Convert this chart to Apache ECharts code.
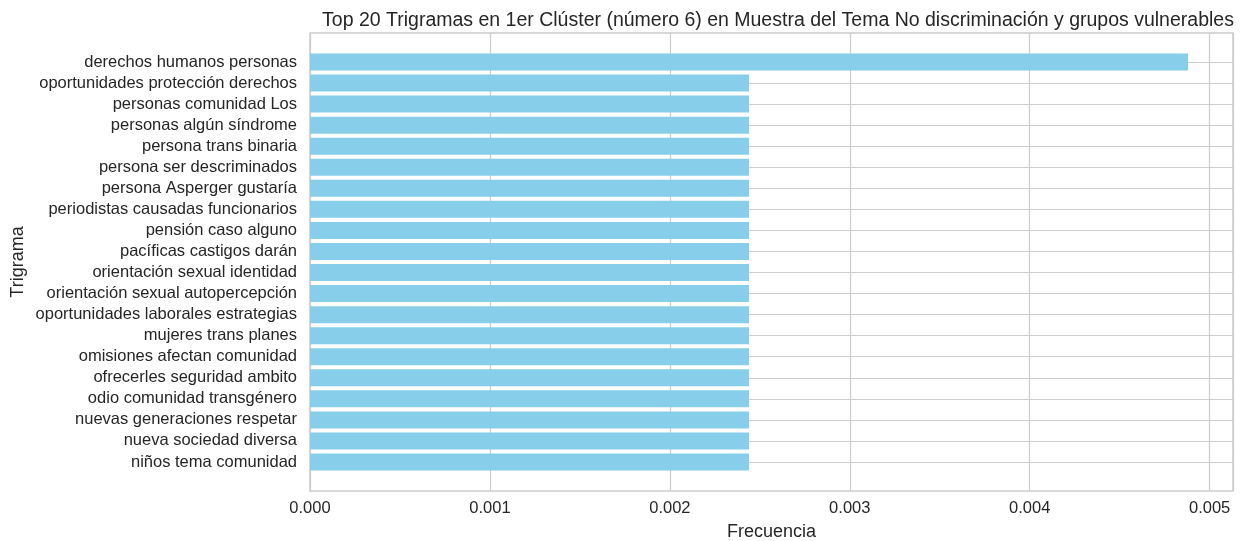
<!DOCTYPE html>
<html style="height: 100%">
<head>
    <meta charset="utf-8">
</head>
<body style="height: 100%; margin: 0; background: #fff">
    <div id="container" style="width: 1245px; height: 541px"></div>
    <script type="text/javascript" src="https://cdn.jsdelivr.net/npm/echarts@6/dist/echarts.min.js"></script>
    <script type="text/javascript">
var trigramas = [
    'derechos humanos personas',
    'oportunidades protección derechos',
    'personas comunidad Los',
    'personas algún síndrome',
    'persona trans binaria',
    'persona ser descriminados',
    'persona Asperger gustaría',
    'periodistas causadas funcionarios',
    'pensión caso alguno',
    'pacíficas castigos darán',
    'orientación sexual identidad',
    'orientación sexual autopercepción',
    'oportunidades laborales estrategias',
    'mujeres trans planes',
    'omisiones afectan comunidad',
    'ofrecerles seguridad ambito',
    'odio comunidad transgénero',
    'nuevas generaciones respetar',
    'nueva sociedad diversa',
    'niños tema comunidad'
];
var frecuencias = [0.00488, 0.00244, 0.00244, 0.00244, 0.00244, 0.00244, 0.00244,
    0.00244, 0.00244, 0.00244, 0.00244, 0.00244, 0.00244, 0.00244, 0.00244,
    0.00244, 0.00244, 0.00244, 0.00244, 0.00244];
var xMax = 0.00513;

var textColor = '#262626';
var gridColor = '#cccccc';
var font = 'Liberation Sans, Arial, sans-serif';

var dom = document.getElementById("container");
var myChart = echarts.init(dom, null, {renderer: 'canvas'});
var option = {
    backgroundColor: '#ffffff',
    animation: false,
    title: {
        text: 'Top 20 Trigramas en 1er Clúster (número 6) en Muestra del Tema No discriminación y grupos vulnerables',
        left: 773,
        textAlign: 'center',
        top: 6,
        textStyle: {
            color: textColor,
            fontFamily: font,
            fontWeight: 'normal',
            fontSize: 19.5
        }
    },
    grid: [
        // frame + vertical grid
        {left: 310, right: 12, top: 33, bottom: 50, show: true, outerBoundsMode: 'none',
            borderColor: gridColor, borderWidth: 1.5, backgroundColor: '#fff'},
        // bars: category centres
        {left: 310, right: 12, top: 62, height: 400, outerBoundsMode: 'none'}
    ],
    xAxis: [
        {
            type: 'value', gridIndex: 0, min: 0, max: xMax, interval: 0.001,
            name: 'Frecuencia', nameLocation: 'middle', nameGap: 32,
            nameTextStyle: {color: textColor, fontFamily: font, fontSize: 18},
            axisLine: {show: false}, axisTick: {show: false},
            axisLabel: {
                color: textColor, fontFamily: font, fontSize: 16.5, margin: 9,
                showMaxLabel: false,
                formatter: function (v) { return v.toFixed(3); }
            },
            splitLine: {show: true, lineStyle: {color: gridColor, width: 1.2}}
        },
        {
            type: 'value', gridIndex: 1, min: 0, max: xMax,
            show: false
        }
    ],
    yAxis: [
        {
            type: 'value', gridIndex: 0, min: 0, max: 1,
            name: 'Trigrama', nameLocation: 'middle', nameGap: 283,
            nameTextStyle: {color: textColor, fontFamily: font, fontSize: 18},
            axisLine: {show: false}, axisTick: {show: false},
            axisLabel: {show: false}, splitLine: {show: false}
        },
        {
            type: 'category', gridIndex: 1, data: trigramas, inverse: true,
            boundaryGap: false,
            axisLine: {show: false}, axisTick: {show: false},
            axisLabel: {color: textColor, fontFamily: font, fontSize: 16.5, margin: 13, interval: 0},
            splitLine: {show: true, interval: 0, lineStyle: {color: gridColor, width: 1.2}}
        }
    ],
    series: [
        {
            name: 'Frecuencia',
            type: 'bar',
            xAxisIndex: 1,
            yAxisIndex: 1,
            data: frecuencias,
            barWidth: 17,
            itemStyle: {color: '#87ceeb'}
        }
    ]
};
if (option && typeof option === "object") {
    myChart.setOption(option, true);
}
</script>
</body>
</html>
